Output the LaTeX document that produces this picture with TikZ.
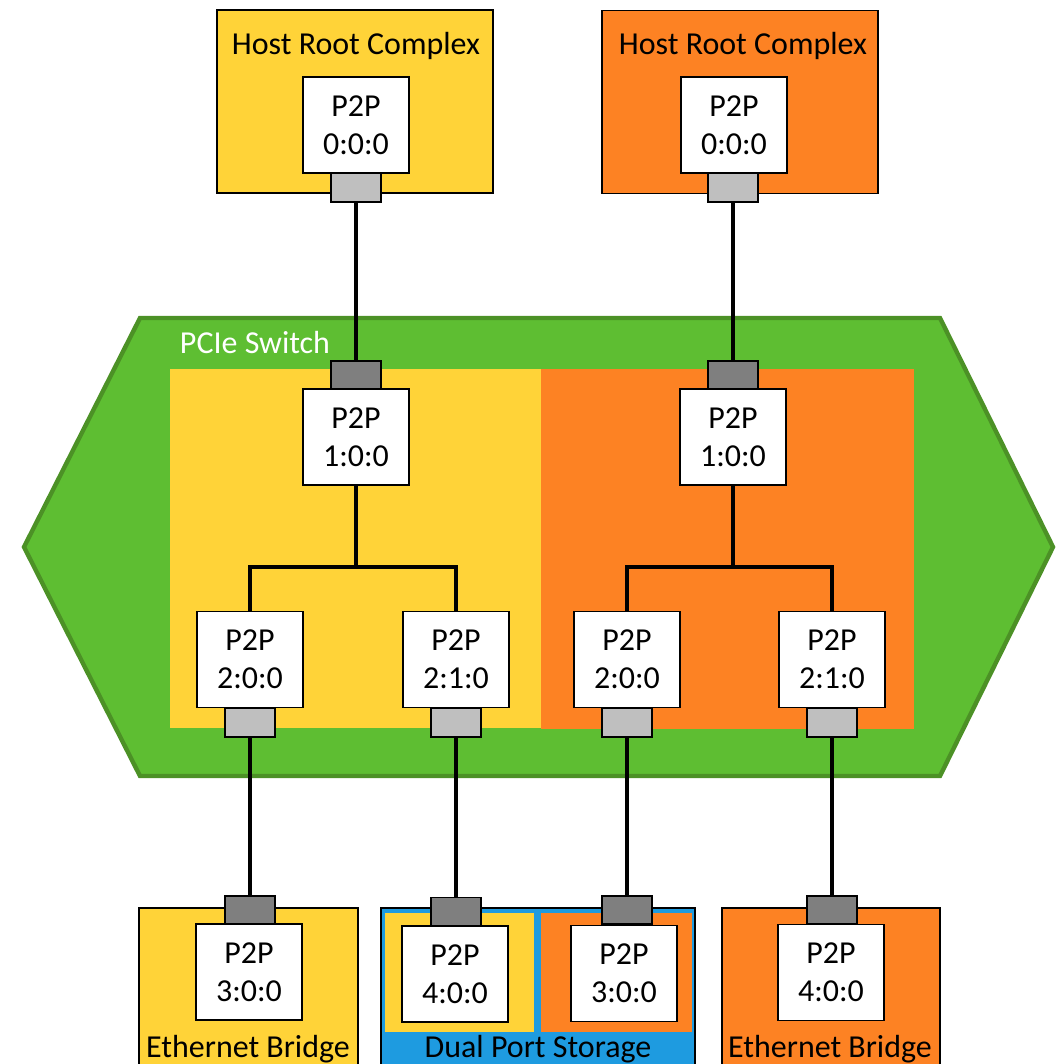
\documentclass[tikz,border=0pt]{standalone}
\usepackage{fontspec}
\setmainfont{Carlito}
\newlength\upx \setlength\upx{0.02cm}
\definecolor{cyel}{RGB}{255,211,56}
\definecolor{corg}{RGB}{253,130,35}
\definecolor{cgrn}{RGB}{94,190,50}
\definecolor{cgrnd}{RGB}{76,145,38}
\definecolor{cblu}{RGB}{30,155,224}
\definecolor{cgl}{RGB}{191,191,191}
\definecolor{cgd}{RGB}{127,127,127}
\tikzset{
  p2p/.style={draw=black, line width=1pt, fill=white, minimum width=106\upx, minimum height=96\upx, inner sep=0, align=center, font=\fontsize{18.2}{21.5}\selectfont},
  portl/.style={draw=black, line width=0.9pt, fill=cgl, minimum width=50\upx, minimum height=29\upx, inner sep=0},
  portd/.style={draw=black, line width=0.9pt, fill=cgd, minimum width=50\upx, minimum height=28\upx, inner sep=0},
  area/.style={draw=black, line width=0.9pt, inner sep=0},
  zone/.style={inner sep=0},
  wire/.style={line width=2.3pt, black},
  lbl/.style={font=\fontsize{18.2}{21}\selectfont, inner sep=0, anchor=base},
}
\begin{document}
\begin{tikzpicture}[x=0.02cm, y=-0.02cm]
\useasboundingbox (0,0) rectangle (1064,1064);
% host root complexes
\node[area, fill=cyel, minimum width=276\upx, minimum height=183\upx] (hostL) at (355,101.5) {};
\node[area, fill=corg, minimum width=276\upx, minimum height=183\upx] (hostR) at (740,102) {};
\node[lbl] (hostLt) at (356,55) {Host Root Complex};
\node[lbl] (hostRt) at (743,55) {Host Root Complex};
\node[p2p] (h0L) at (356,125) {P2P\\0:0:0};
\node[p2p] (h0R) at (734,125) {P2P\\0:0:0};
\node[portl] (h0Lp) at (356,187.5) {};
\node[portl] (h0Rp) at (733,187.5) {};
% PCIe switch
\path[fill=cgrn, draw=cgrnd, line width=2.5pt, line join=miter]
  (140,318) -- (940,318) -- (1053,547) -- (940,776) -- (140,776) -- (24,547) -- cycle;
\node[lbl, text=white] (swt) at (255,353) {PCIe Switch};
\node[zone, fill=cyel, minimum width=371\upx, minimum height=359\upx] (swY) at (355.5,548.5) {};
\node[zone, fill=corg, minimum width=373\upx, minimum height=360\upx] (swO) at (727.5,549) {};
\node[p2p] (s1L) at (356,437) {P2P\\1:0:0};
\node[p2p] (s1R) at (733,437) {P2P\\1:0:0};
\node[portd] (s1Lp) at (356,375) {};
\node[portd] (s1Rp) at (733,375) {};
\node[p2p] (s20L) at (250,659.5) {P2P\\2:0:0};
\node[p2p] (s21L) at (456,659.5) {P2P\\2:1:0};
\node[p2p] (s20R) at (627,659.5) {P2P\\2:0:0};
\node[p2p] (s21R) at (832,659.5) {P2P\\2:1:0};
\node[portl] (s20Lp) at (250,722.5) {};
\node[portl] (s21Lp) at (456,722.5) {};
\node[portl] (s20Rp) at (627,722.5) {};
\node[portl] (s21Rp) at (832,722.5) {};
\coordinate (busL) at (356,567);
\coordinate (busR) at (733,567);
% endpoints
\node[area, fill=cyel, minimum width=219\upx, minimum height=182\upx] (ebL) at (248.5,999) {};
\node[area, fill=cblu, minimum width=314\upx, minimum height=182\upx] (dps) at (538,999) {};
\node[zone, fill=cyel, minimum width=149\upx, minimum height=119\upx] (dpsY) at (459.5,972.5) {};
\node[zone, fill=corg, minimum width=151\upx, minimum height=119\upx] (dpsO) at (616.5,972.5) {};
\node[area, fill=corg, minimum width=218\upx, minimum height=182\upx] (ebR) at (831,999) {};
\node[lbl] (ebLt) at (248,1057) {Ethernet Bridge};
\node[lbl] (dpst) at (538,1057) {Dual Port Storage};
\node[lbl] (ebRt) at (830,1057) {Ethernet Bridge};
\node[p2p] (e3L) at (249,972) {P2P\\3:0:0};
\node[p2p] (d4) at (455,974) {P2P\\4:0:0};
\node[p2p] (d3) at (624,973.5) {P2P\\3:0:0};
\node[p2p] (e4R) at (831,972.5) {P2P\\4:0:0};
\node[portd] (e3Lp) at (250,910) {};
\node[portd] (d4p) at (456,911.5) {};
\node[portd] (d3p) at (627,910) {};
\node[portd] (e4Rp) at (832,910) {};
% wires
\draw[wire] (h0Lp.south) -- (s1Lp.north);
\draw[wire] (h0Rp.south) -- (s1Rp.north);
\draw[wire] (s1L.south) -- (busL);
\draw[wire] (s1R.south) -- (busR);
\draw[wire, line join=miter] (s20L.north) |- (busL) -| (s21L.north);
\draw[wire, line join=miter] (s20R.north) |- (busR) -| (s21R.north);
\draw[wire] (s20Lp.south) -- (e3Lp.north);
\draw[wire] (s21Lp.south) -- (d4p.north);
\draw[wire] (s20Rp.south) -- (d3p.north);
\draw[wire] (s21Rp.south) -- (e4Rp.north);
\end{tikzpicture}
\end{document}
